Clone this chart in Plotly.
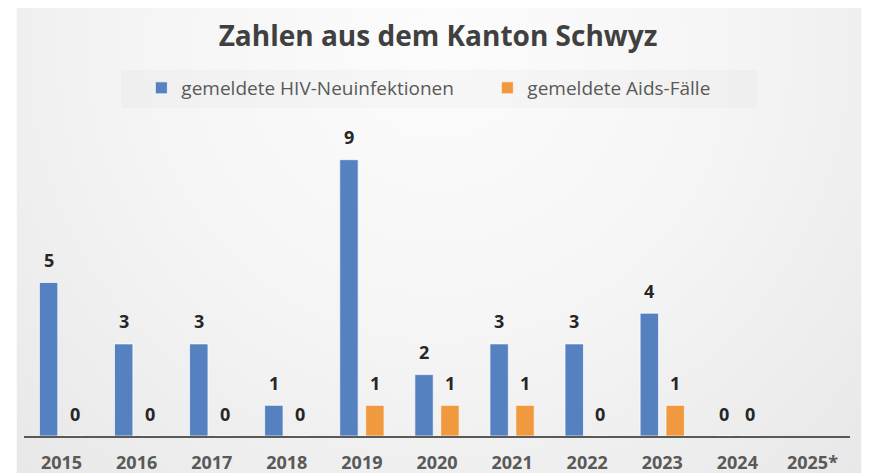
import base64
import plotly.graph_objects as go

# ---- data ----
years = ["2015", "2016", "2017", "2018", "2019", "2020", "2021", "2022", "2023", "2024", "2025*"]
hiv_new = [5, 3, 3, 1, 9, 2, 3, 3, 4, 0, None]
aids_cases = [0, 0, 0, 0, 1, 1, 1, 0, 1, 0, None]
series_names = ["gemeldete HIV-Neuinfektionen", "gemeldete Aids-Fälle"]
title_text = "Zahlen aus dem Kanton Schwyz"

# ---- layout (page pixel coords; the page body has an 8px margin) ----
OFF = 8
W, H = 890 - OFF, 473 - OFF
PX0, PX1, PY0, PY1 = 23.5, 850.5, 129, 436      # plot area in page px
M_L, M_R = PX0 - OFF, W - (PX1 - OFF)
M_T, M_B = PY0 - OFF, H - (PY1 - OFF)
plot_w = PX1 - PX0
plot_h = PY1 - PY0


def paper_x(px):
    return (px - PX0) / plot_w


def paper_y(py):
    return (PY1 - py) / plot_h


BLUE = "#5581c1"
ORANGE = "#f0993f"
FONT = "Open Sans"
BARGAP = 0.31
BARGROUPGAP = 0.29
cat_w = plot_w / len(years)
slot = (1 - BARGAP) * cat_w / 2

fig = go.Figure()
fig.add_trace(go.Bar(x=years, y=hiv_new, name=series_names[0],
                     marker=dict(color=BLUE, line=dict(color="rgba(255,255,255,0.7)", width=1))))
fig.add_trace(go.Bar(x=years, y=aids_cases, name=series_names[1],
                     marker=dict(color=ORANGE, line=dict(color="rgba(255,255,255,0.7)", width=1))))

annotations = []
for vals, sign in ((hiv_new, -1), (aids_cases, 1)):
    for i, v in enumerate(vals):
        if v is None:
            continue
        annotations.append(dict(x=i, y=v, xref="x", yref="y", text=str(v), showarrow=False,
                                xshift=sign * slot / 2, yshift=22.5, yanchor="middle",
                                font=dict(family=FONT, size=18, color="#262626", weight="bold")))

# background gradient card
svg = (
    "<svg xmlns='http://www.w3.org/2000/svg' width='846' height='466' viewBox='0 0 846 466' preserveAspectRatio='none'>"
    "<defs><radialGradient id='g' cx='423' cy='40' r='640' gradientUnits='userSpaceOnUse'>"
    "<stop offset='0' stop-color='#fcfcfc'/><stop offset='0.45' stop-color='#f5f5f5'/>"
    "<stop offset='1' stop-color='#e6e6e6'/></radialGradient></defs>"
    "<rect width='846' height='466' fill='url(#g)'/></svg>"
)
src = "data:image/svg+xml;base64," + base64.b64encode(svg.encode()).decode()
cx0, cx1, cy0, cy1 = 16, 862, 7, 473
images = [dict(source=src, xref="paper", yref="paper",
               x=paper_x(cx0), y=paper_y(cy0),
               sizex=(cx1 - cx0) / plot_w, sizey=(cy1 - cy0) / plot_h,
               xanchor="left", yanchor="top", sizing="stretch", layer="below")]

# legend box
lx0, lx1, ly0, ly1 = 121, 757, 70, 108
shapes = [dict(type="rect", xref="paper", yref="paper", layer="below",
               x0=paper_x(lx0), x1=paper_x(lx1), y0=paper_y(ly1), y1=paper_y(ly0),
               fillcolor="rgba(0,0,0,0.018)", line=dict(width=0))]

fig.update_layout(
    width=W, height=H,
    margin=dict(l=M_L, r=M_R, t=M_T, b=M_B, autoexpand=False),
    paper_bgcolor="white", plot_bgcolor="rgba(0,0,0,0)",
    barmode="group", bargap=BARGAP, bargroupgap=BARGROUPGAP,
    title=dict(text=title_text, x=(438 - OFF) / W, xanchor="center",
               y=1 - (36 - OFF) / H, yanchor="middle",
               font=dict(family=FONT, size=28, color="#404040", weight="bold")),
    legend=dict(orientation="h", x=paper_x(141), xanchor="left",
                y=paper_y(88), yanchor="middle",
                bgcolor="rgba(0,0,0,0)", font=dict(family=FONT, size=19, color="#595959"),
                entrywidth=301, entrywidthmode="pixels", traceorder="normal"),
    xaxis=dict(type="category", range=[-0.5, len(years) - 0.5], showline=True,
               linecolor="#595959", linewidth=2, showgrid=False,
               ticks="outside", ticklen=9, tickcolor="rgba(0,0,0,0)",
               tickfont=dict(family=FONT, size=18, color="#595959", weight="bold"),
               fixedrange=True, automargin=False),
    yaxis=dict(range=[0, 10], visible=False, showgrid=False, zeroline=False, fixedrange=True),
    annotations=annotations, images=images, shapes=shapes,
    showlegend=True,
)

fig.write_html("out.html")
